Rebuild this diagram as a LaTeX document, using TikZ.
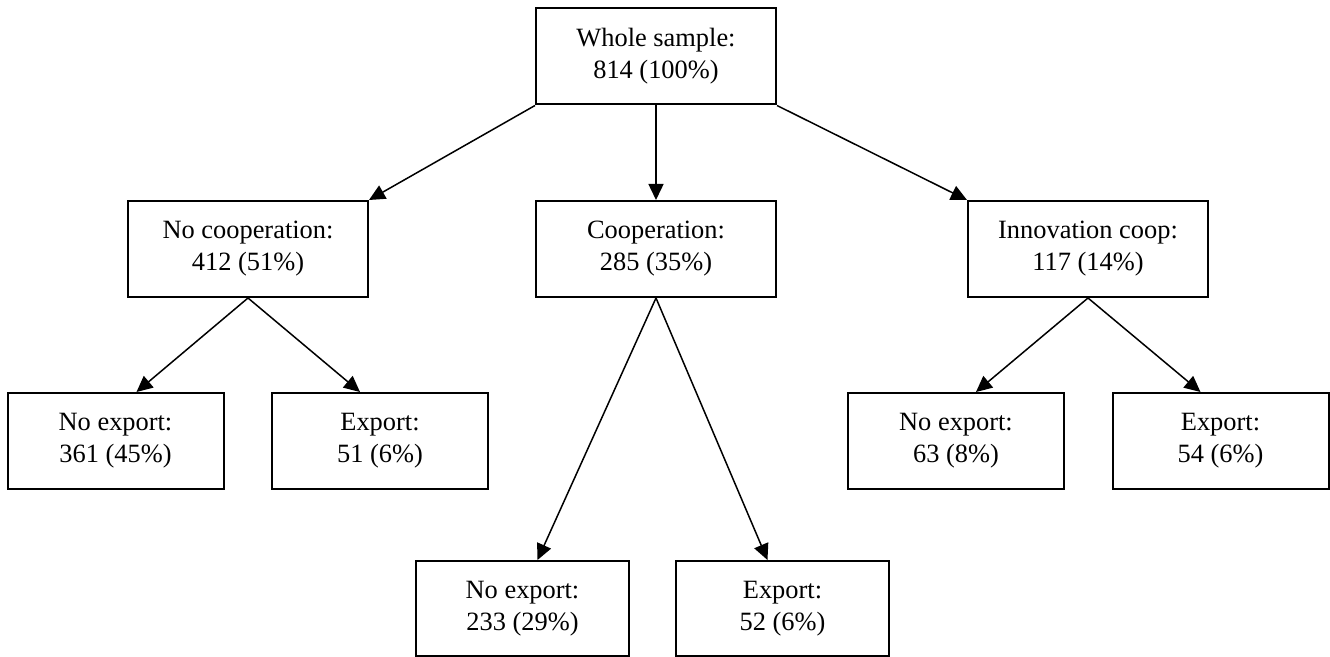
\documentclass[tikz,border=0pt]{standalone}
\usepackage{fontspec}
\setmainfont{Liberation Serif}
\usetikzlibrary{arrows.meta,calc}
\begin{document}
\begin{tikzpicture}[x=0.5pt,y=-0.5pt,
  box/.style={draw,line width=1pt,align=center,inner sep=0pt,
    font=\fontsize{13.2pt}{16pt}\selectfont},
  wide/.style={box,minimum width=120pt,minimum height=48pt},
  leaf/.style={box,minimum width=108pt,minimum height=48pt},
  arr/.style={line width=0.75pt,-{Triangle[length=8pt,width=7.5pt]}}]
\useasboundingbox (0,0) rectangle (1330,657);
\node[wide] (root) at (656,56.5) {Whole sample:\\814 (100\%)};
\node[wide] (nocoop) at (248,249) {No cooperation:\\412 (51\%)};
\node[wide] (coop) at (656,249) {Cooperation:\\285 (35\%)};
\node[wide] (innov) at (1088,249) {Innovation coop:\\117 (14\%)};
\node[leaf] (ne1) at (115.5,441) {No export:\\361 (45\%)};
\node[leaf] (ex1) at (380,441) {Export:\\51 (6\%)};
\node[leaf] (ne3) at (956,441) {No export:\\63 (8\%)};
\node[leaf] (ex3) at (1220.5,441) {Export:\\54 (6\%)};
\node[box,minimum width=106.5pt,minimum height=47.5pt] (ne2) at (522.5,608.5) {No export:\\233 (29\%)};
\node[box,minimum width=106.5pt,minimum height=47.5pt] (ex2) at (782.5,608.5) {Export:\\52 (6\%)};
\draw[arr] (root.south west) -- (nocoop.north east);
\draw[arr] (root.south) -- (coop.north);
\draw[arr] (root.south east) -- (innov.north west);
\draw[arr] (nocoop.south) -- ($(ne1.north)+(21,0)$);
\draw[arr] (nocoop.south) -- ($(ex1.north)+(-20,0)$);
\draw[arr] (innov.south) -- ($(ne3.north)+(20,0)$);
\draw[arr] (innov.south) -- ($(ex3.north)+(-20,0)$);
\draw[arr] (coop.south) -- ($(ne2.north)+(15,0)$);
\draw[arr] (coop.south) -- ($(ex2.north)+(-15,0)$);
\end{tikzpicture}
\end{document}
